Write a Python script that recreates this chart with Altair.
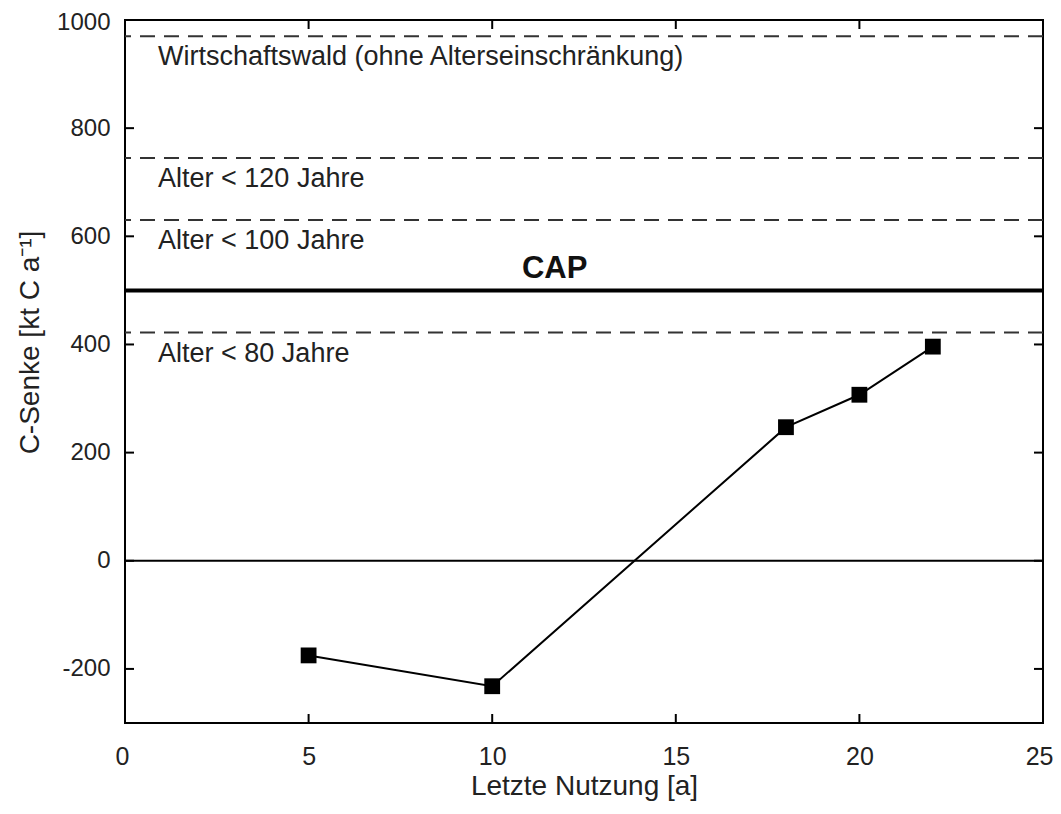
import altair as alt
import pandas as pd

# data series
nutzung = [5, 10, 18, 20, 22]
senke = [-175, -232, 247, 307, 396]

# reference lines
ref_values = [970, 745, 630, 422]
ref_labels = ["Wirtschaftswald (ohne Alterseinschränkung)", "Alter < 120 Jahre",
              "Alter < 100 Jahre", "Alter < 80 Jahre"]
cap_value = 500
cap_label = "CAP"

x_tick_labels = [0, 5, 10, 15, 20, 25]
y_tick_labels = [-200, 0, 200, 400, 600, 800, 1000]
x_ticks = [5, 10, 15, 20]
y_ticks = [-200, 0, 200, 400, 600, 800]

W, H = 918, 703
FONT = "Liberation Sans"
TXT = "#222222"

xs = alt.Scale(domain=[0, 25], nice=False, zero=False)
ys = alt.Scale(domain=[-300, 1000], nice=False, zero=False)

df = pd.DataFrame({"x": nutzung, "y": senke})
refdf = pd.DataFrame({"y": ref_values, "label": ref_labels, "x": [0.9] * 4})
capdf = pd.DataFrame({"y": [cap_value], "label": [cap_label], "x": [11.7]})
zerodf = pd.DataFrame({"y": [0]})
xtdf = pd.DataFrame({"x": x_ticks})
ytdf = pd.DataFrame({"y": y_ticks})

label_expr = "datum.value < 0 ? '-' + abs(datum.value) : '' + datum.value"

xaxis = alt.Axis(values=x_tick_labels, ticks=False, domain=False, grid=False,
                 labelFontSize=25, labelPadding=21, labelFont=FONT, labelColor=TXT,
                 labelExpr=label_expr, labelFlush=True, labelFlushOffset=10,
                 title="Letzte Nutzung [a]", titleFontSize=28, titleFont=FONT,
                 titleFontWeight="normal", titleColor=TXT,
                 titleBaseline="alphabetic", titleY=71)
yaxis = alt.Axis(values=y_tick_labels, ticks=False, domain=False,
                 grid=False, labelFontSize=24, labelPadding=15, labelFont=FONT,
                 labelColor=TXT, labelExpr=label_expr,
                 labelFlush=True, labelFlushOffset=10,
                 title="C-Senke [kt C a⁻¹]", titleFontSize=28,
                 titleFont=FONT, titleFontWeight="normal", titleColor=TXT,
                 titlePadding=12, titleY=322)

line = alt.Chart(df).mark_line(color="black", strokeWidth=2).encode(
    x=alt.X("x:Q", scale=xs, axis=xaxis),
    y=alt.Y("y:Q", scale=ys, axis=yaxis),
)
pts = alt.Chart(df).mark_point(shape="square", filled=True, color="black", size=250,
                               opacity=1).encode(x=alt.X("x:Q", scale=xs),
                                                 y=alt.Y("y:Q", scale=ys))

refs = alt.Chart(refdf).mark_rule(color="#333", strokeWidth=2, strokeDash=[15, 9]).encode(
    y=alt.Y("y:Q", scale=ys))
reftxt = alt.Chart(refdf).mark_text(align="left", baseline="middle", dy=21, fontSize=27,
                                    font=FONT, color=TXT).encode(
    x=alt.X("x:Q", scale=xs), y=alt.Y("y:Q", scale=ys), text="label:N")

cap = alt.Chart(capdf).mark_rule(color="black", strokeWidth=4).encode(y=alt.Y("y:Q", scale=ys))
captxt = alt.Chart(capdf).mark_text(align="center", baseline="middle", dy=-21, fontSize=31,
                                    fontWeight="bold", font=FONT, color="#111").encode(
    x=alt.X("x:Q", scale=xs), y=alt.Y("y:Q", scale=ys), text="label:N")

zero = alt.Chart(zerodf).mark_rule(color="black", strokeWidth=2).encode(y=alt.Y("y:Q", scale=ys))

tk = dict(color="black", strokeWidth=2)
xb = alt.Chart(xtdf).mark_rule(**tk).encode(x=alt.X("x:Q", scale=xs), y=alt.value(H), y2=alt.value(H - 9))
xt = alt.Chart(xtdf).mark_rule(**tk).encode(x=alt.X("x:Q", scale=xs), y=alt.value(0), y2=alt.value(9))
yl = alt.Chart(ytdf).mark_rule(**tk).encode(y=alt.Y("y:Q", scale=ys), x=alt.value(0), x2=alt.value(9))
yr = alt.Chart(ytdf).mark_rule(**tk).encode(y=alt.Y("y:Q", scale=ys), x=alt.value(W), x2=alt.value(W - 9))

chart = alt.layer(refs, reftxt, cap, captxt, zero, xb, xt, yl, yr, line, pts).properties(
    width=W, height=H,
    autosize=alt.AutoSizeParams(type="none"),
    padding={"left": 117, "top": 12, "right": 10, "bottom": 78},
).configure(background="white",
            view=alt.ViewConfig(stroke="black", strokeWidth=2))

chart.save("out.html", embed_options={"renderer": "svg", "actions": False})
